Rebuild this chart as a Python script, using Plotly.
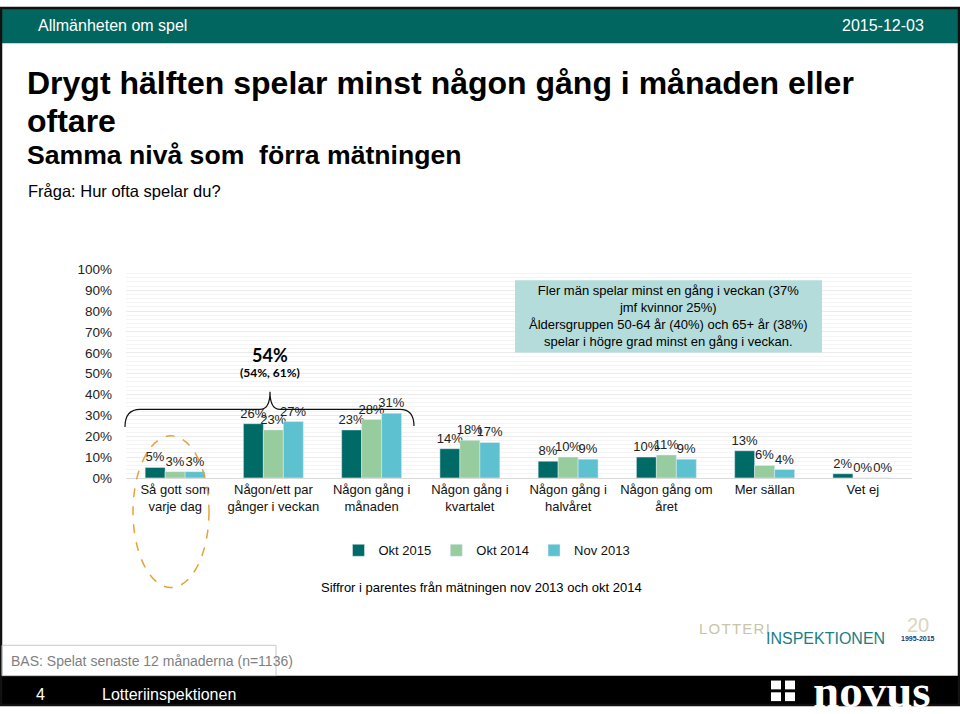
import plotly.graph_objects as go

W, H = 960, 714

categories = ["Så gott som<br>varje dag", "Någon/ett par<br>gånger i veckan", "Någon gång i<br>månaden",
              "Någon gång i<br>kvartalet", "Någon gång i<br>halvåret", "Någon gång om<br>året",
              "Mer sällan", "Vet ej"]
series_names = ["Okt 2015", "Okt 2014", "Nov 2013"]
okt2015 = [5, 26, 23, 14, 8, 10, 13, 2]
okt2014 = [3, 23, 28, 18, 10, 11, 6, 0]
nov2013 = [3, 27, 31, 17, 9, 9, 4, 0]
colors = ["#006B66", "#97CC9F", "#5DC1CF"]
y_ticks = list(range(0, 101, 10))

FONT = "Arial, Liberation Sans, sans-serif"


def px(x):
    return x / W


def py(y):
    return 1 - y / H


fig = go.Figure()
for name, vals, col in zip(series_names, [okt2015, okt2014, nov2013], colors):
    fig.add_trace(go.Bar(
        x=categories, y=vals, name=name, marker_color=col,
        text=[f"{v}%" for v in vals], textposition="outside", constraintext="none",
        textfont=dict(family=FONT, size=13, color="#222"),
        cliponaxis=False,
    ))

shapes = []
annotations = []

# page border and header bar
shapes.append(dict(type="rect", xref="paper", yref="paper", x0=px(0), x1=px(W), y0=py(0), y1=py(37),
                   fillcolor="#00665F", line=dict(width=0), layer="below"))
shapes.append(dict(type="rect", xref="paper", yref="paper", x0=px(0), x1=px(W), y0=py(683), y1=py(H),
                   fillcolor="#000000", line=dict(width=0), layer="below"))
shapes.append(dict(type="rect", xref="paper", yref="paper", x0=px(1), x1=px(W - 1), y0=py(1), y1=py(H - 1),
                   fillcolor="rgba(0,0,0,0)", line=dict(color="#111", width=2.5)))
# BAS box
shapes.append(dict(type="rect", xref="paper", yref="paper", x0=px(2), x1=px(276), y0=py(652), y1=py(683),
                   fillcolor="rgba(0,0,0,0)", line=dict(color="#c8c8c8", width=1)))
# info box
shapes.append(dict(type="rect", xref="paper", yref="paper", x0=px(515), x1=px(822), y0=py(279), y1=py(353),
                   fillcolor="#B3DCDB", line=dict(width=0)))
# bracket
pts = [(125, 429), (125, 411), (140, 411), (260, 411), (270, 411), (270, 393), (270, 411), (280, 411),
       (400, 411), (414, 411), (414, 428)]
P = [(px(a), py(b)) for a, b in pts]
path = (f"M {P[0][0]},{P[0][1]} Q {P[1][0]},{P[1][1]} {P[2][0]},{P[2][1]} L {P[3][0]},{P[3][1]} "
        f"Q {P[4][0]},{P[4][1]} {P[5][0]},{P[5][1]} Q {P[6][0]},{P[6][1]} {P[7][0]},{P[7][1]} "
        f"L {P[8][0]},{P[8][1]} Q {P[9][0]},{P[9][1]} {P[10][0]},{P[10][1]}")
shapes.append(dict(type="path", xref="paper", yref="paper", path=path, line=dict(color="#111", width=1.2)))
# dashed ellipse
shapes.append(dict(type="circle", xref="paper", yref="paper", x0=px(133), x1=px(209), y0=py(438), y1=py(593),
                   line=dict(color="#E5A23A", width=1.5, dash="dash")))
# novus squares
for i in range(2):
    for j in range(2):
        x0 = 771 + i * 14
        y0 = 688 + j * 12
        shapes.append(dict(type="rect", xref="paper", yref="paper", x0=px(x0), x1=px(x0 + 10),
                           y0=py(y0), y1=py(y0 + 9), fillcolor="white", line=dict(width=0)))


def ann(text, x, y, size, color="#000", xanchor="left", bold=False, family=FONT, align="left"):
    if bold:
        text = f"<b>{text}</b>"
    annotations.append(dict(text=text, x=px(x), y=py(y), xref="paper", yref="paper", showarrow=False,
                            xanchor=xanchor, yanchor="middle", align=align,
                            font=dict(family=family, size=size, color=color)))


ann("Allmänheten om spel", 36, 19, 16, "white")
ann("2015-12-03", 926, 19, 16, "white", xanchor="right")
ann("Drygt hälften spelar minst någon gång i månaden eller", 25, 78, 32, bold=True)
ann("oftare", 25, 116, 32, bold=True)
ann("Samma nivå som  förra mätningen", 25, 151, 26.6, bold=True)
ann("Fråga: Hur ofta spelar du?", 26, 188, 16.5)
ann("54%", 270, 355, 18, bold=True, xanchor="center", family="Lato, Noto Sans, sans-serif")
ann("(54%, 61%)", 270, 373, 12, bold=True, xanchor="center", family="Lato, Noto Sans, sans-serif")
ann("Fler män spelar minst en gång i veckan (37%<br>jmf kvinnor 25%)<br>Åldersgruppen 50-64 år (40%) och 65+ år (38%)"
    "<br>spelar i högre grad minst en gång i veckan.", 668, 316, 13, xanchor="center", align="center")
ann("Siffror i parentes från mätningen nov 2013 och okt 2014", 481, 593, 13, xanchor="center")
ann("BAS: Spelat senaste 12 månaderna (n=1136)", 9, 668, 14, "#7f7f7f")
ann("4", 40, 702, 16, "white", xanchor="center")
ann("Lotteriinspektionen", 100, 702, 16, "white")
ann("L\u200aO\u200aT\u200aT\u200aE\u200aR\u200aI", 697, 635, 15, "#C9C5A8", family="Liberation Sans, Arial")
ann("INSPEKTIONEN", 764, 645, 16, "#1B7E86", family="Liberation Sans, Arial")
ann("20", 918, 631, 20, "#D9D6C0", xanchor="center")
ann("1995-2015", 918, 645, 7, "#1B3A6B", xanchor="center", bold=True)
ann("novus", 872, 699, 47, "white", xanchor="center", bold=True, family="Liberation Serif, DejaVu Serif, serif")

fig.update_layout(
    width=W, height=H, margin=dict(l=0, r=0, t=0, b=0),
    paper_bgcolor="white", plot_bgcolor="white",
    barmode="group", bargap=0.39, bargroupgap=0,
    font=dict(family=FONT, size=13, color="#222"),
    xaxis=dict(domain=[px(126), px(912)], showline=True, linecolor="#d9d9d9", linewidth=1,
               tickfont=dict(family=FONT, size=13, color="#111"), ticks="", showgrid=False),
    yaxis=dict(domain=[py(481), py(268)], range=[0, 100], tickvals=y_ticks,
               ticktext=[f"{v}%" for v in y_ticks], showgrid=True, gridcolor="#ebebeb", gridwidth=1,
               minor=dict(dtick=2, showgrid=True, gridcolor="#f4f4f4", gridwidth=1),
               zeroline=False, ticks="", ticklabelstandoff=13,
               tickfont=dict(family=FONT, size=13.5, color="#222")),
    legend=dict(orientation="h", x=px(487), y=py(555), xanchor="center", yanchor="middle",
                font=dict(family=FONT, size=13, color="#111"), itemwidth=30, traceorder="normal"),
    shapes=shapes, annotations=annotations,
)

post = ("document.documentElement.style.cssText='margin:0;padding:0;overflow:hidden;width:960px;height:714px';"
        "document.body.style.cssText='margin:0;padding:0;overflow:hidden;width:960px;height:714px';"
        "var gd=document.getElementById('{plot_id}');"
        "gd.style.position='fixed';gd.style.left='0px';gd.style.top='0px';")
fig.write_html("out.html", post_script=post, config={"displayModeBar": False})
